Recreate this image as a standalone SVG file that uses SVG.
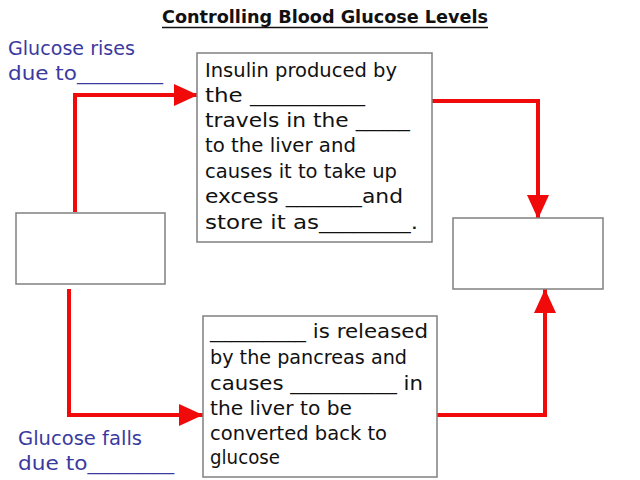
<svg xmlns="http://www.w3.org/2000/svg" width="640" height="480" viewBox="0 0 640 480">
<defs>
<style>
.box{fill:#fff;stroke:#808080;stroke-width:1.5}
.t{font-family:"DejaVu Sans","Liberation Sans",sans-serif;font-size:19px;fill:#111}
.b{font-family:"DejaVu Sans","Liberation Sans",sans-serif;font-size:19px;fill:#3a3aa0}
.title{font-family:"DejaVu Sans","Liberation Sans",sans-serif;font-size:18px;font-weight:bold;fill:#111}
.c{fill:none;stroke:#f00a0a;stroke-width:4;stroke-linejoin:miter}
</style>
<marker id="ah" markerUnits="userSpaceOnUse" markerWidth="24" markerHeight="22" refX="24" refY="11" orient="auto">
<path d="M0,0 L24,11 L0,22 z" fill="#f00a0a"/>
</marker>
</defs>
<rect width="640" height="480" fill="#fff"/>
<g id="title">
<text class="title" x="162" y="23" textLength="326" lengthAdjust="spacingAndGlyphs">Controlling Blood Glucose Levels</text>
<line x1="162" y1="27.5" x2="488" y2="27.5" stroke="#111" stroke-width="1.5"/>
</g>
<g id="connectors">
<path class="c" d="M75,212 V95 H198" marker-end="url(#ah)"/>
<path class="c" d="M432,101 H538 V219" marker-end="url(#ah)"/>
<path class="c" d="M69,289 V415 H203" marker-end="url(#ah)"/>
<path class="c" d="M437,415 H545 V289" marker-end="url(#ah)"/>
</g>
<g id="label-rises">
<text class="b" x="8" y="55" textLength="127" lengthAdjust="spacingAndGlyphs">Glucose rises</text>
<text class="b" x="8" y="80" textLength="155" lengthAdjust="spacingAndGlyphs">due to________</text>
</g>
<g id="label-falls">
<text class="b" x="18" y="445" textLength="124" lengthAdjust="spacingAndGlyphs">Glucose falls</text>
<text class="b" x="18" y="470" textLength="156" lengthAdjust="spacingAndGlyphs">due to________</text>
</g>
<g id="node-left">
<rect class="box" x="16" y="213" width="149" height="71"/>
</g>
<g id="node-right">
<rect class="box" x="453" y="218" width="150" height="71"/>
</g>
<g id="node-insulin">
<rect class="box" x="197" y="53" width="235" height="189"/>
<text class="t" x="205" y="77" textLength="192" lengthAdjust="spacingAndGlyphs">Insulin produced by</text>
<text class="t" x="205" y="102" textLength="160" lengthAdjust="spacingAndGlyphs">the __________</text>
<text class="t" x="205" y="127" textLength="205" lengthAdjust="spacingAndGlyphs">travels in the _____</text>
<text class="t" x="205" y="152" textLength="151" lengthAdjust="spacingAndGlyphs">to the liver and</text>
<text class="t" x="205" y="178" textLength="192" lengthAdjust="spacingAndGlyphs">causes it to take up</text>
<text class="t" x="205" y="203" textLength="198" lengthAdjust="spacingAndGlyphs">excess _______and</text>
<text class="t" x="205" y="229" textLength="213" lengthAdjust="spacingAndGlyphs">store it as________.</text>
</g>
<g id="node-glucagon">
<rect class="box" x="203" y="316" width="234" height="161"/>
<text class="t" x="210" y="338" textLength="218" lengthAdjust="spacingAndGlyphs">_________ is released</text>
<text class="t" x="210" y="364" textLength="197" lengthAdjust="spacingAndGlyphs">by the pancreas and</text>
<text class="t" x="210" y="390" textLength="213" lengthAdjust="spacingAndGlyphs">causes __________ in</text>
<text class="t" x="210" y="415" textLength="142" lengthAdjust="spacingAndGlyphs">the liver to be</text>
<text class="t" x="210" y="440" textLength="177" lengthAdjust="spacingAndGlyphs">converted back to</text>
<text class="t" x="210" y="464" textLength="70" lengthAdjust="spacingAndGlyphs">glucose</text>
</g>
</svg>
